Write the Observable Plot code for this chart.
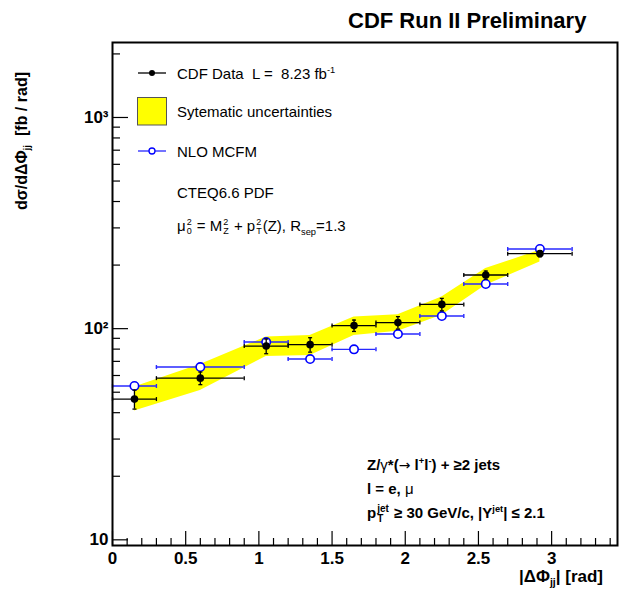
<!DOCTYPE html>
<html><head><meta charset="utf-8">
<script src="https://cdn.jsdelivr.net/npm/d3@7"></script>
<script src="https://cdn.jsdelivr.net/npm/@observablehq/plot@0.6"></script>
<style>
body{margin:0;background:#fff;font-family:"Liberation Sans",Arial,Helvetica,sans-serif;}
#wrap{position:relative;width:619px;height:589px;overflow:hidden;background:#fff;}
#wrap svg.plot{position:absolute;left:0;top:0;}
.t{position:absolute;white-space:nowrap;color:#000;line-height:1;transform:translateY(-50%);}
.b{font-weight:bold;}
sup,sub{font-size:62%;line-height:0;position:relative;vertical-align:baseline;}
sup{top:-0.6em;} sub{top:0.35em;}
.ss{display:inline-flex;flex-direction:column;vertical-align:middle;font-size:9px;line-height:9px;margin:0 1px;}
.g{font-weight:normal;}
.ar{font-weight:normal;font-family:"DejaVu Sans",sans-serif;font-size:14px;}
</style></head><body><div id="wrap"></div><script>
// ---- data ----
const binLo = [0, 0.3, 0.9, 1.2, 1.5, 1.8, 2.1, 2.4, 2.7];
const binHi = [0.3, 0.9, 1.2, 1.5, 1.8, 2.1, 2.4, 2.7, 3.14];
const binCenter = [0.15, 0.6, 1.05, 1.35, 1.65, 1.95, 2.25, 2.55, 2.92];
const dataValue = [46.4, 58.3, 82.7, 84.0, 103.4, 106.8, 130.3, 179.5, 226.6];
const dataStatErr = [4.8, 4.0, 6.6, 6.6, 6.4, 7.2, 8.8, 8.0, 7.5];
const sysLow = [40.7, 51.0, 73.9, 74.7, 92.9, 97.1, 115.6, 160.4, 206.8];
const sysHigh = [52.9, 67.7, 91.2, 92.9, 113.7, 116.5, 141.2, 192.5, 235];
const mcfmValue = [53.5, 65.8, 86.4, 71.8, 79.8, 94.3, 114.7, 162.7, 238.4];
const xTicksMajor = [0, 0.5, 1, 1.5, 2, 2.5, 3];
const xTickLabels = ["0", "0.5", "1", "1.5", "2", "2.5", "3"];
const xTicksMinor = [0.1,0.2,0.3,0.4,0.6,0.7,0.8,0.9,1.1,1.2,1.3,1.4,1.6,1.7,1.8,1.9,2.1,2.2,2.3,2.4,2.6,2.7,2.8,2.9,3.1,3.2,3.3,3.4];
const yTicksMajor = [10, 100, 1000];
const yTickLabels = ["10", "10²", "10³"];
const yTicksMinor = [20,30,40,50,60,70,80,90,200,300,400,500,600,700,800,900,2000];

const rows = binCenter.map((x, i) => ({
  x, lo: binLo[i], hi: binHi[i], v: dataValue[i], e: dataStatErr[i],
  sl: sysLow[i], sh: sysHigh[i], m: mcfmValue[i]
}));
const xLabelOf = new Map(xTicksMajor.map((t, i) => [t, xTickLabels[i]]));
const yLabelOf = new Map(yTicksMajor.map((t, i) => [t, yTickLabels[i]]));

const vcap = {draw(ctx){ ctx.moveTo(0,-2); ctx.lineTo(0,2); }};
const hcap = {draw(ctx){ ctx.moveTo(-2,0); ctx.lineTo(2,0); }};

const plot = Plot.plot({
  width: 619, height: 589,
  marginLeft: 112, marginRight: 2, marginTop: 42, marginBottom: 44,
  x: {domain: [0, 3.45]},
  y: {type: "log", domain: [9.4, 2265]},
  style: {fontFamily: "Liberation Sans, Arial, sans-serif", background: "transparent", overflow: "visible"},
  marks: [
    Plot.areaY(rows, {x: "x", y1: "sl", y2: "sh", fill: "#ffff00", curve: "linear"}),
    // NLO MCFM
    Plot.ruleY(rows, {x1: "lo", x2: "hi", y: "m", stroke: "#2828ff", strokeWidth: 1.4}),
    Plot.dot(rows, {x: "lo", y: "m", symbol: vcap, stroke: "#2828ff", strokeWidth: 1.4}),
    Plot.dot(rows, {x: "hi", y: "m", symbol: vcap, stroke: "#2828ff", strokeWidth: 1.4}),
    Plot.dot(rows, {x: "x", y: "m", r: 4.2, stroke: "#0000ff", fill: "white", strokeWidth: 1.6}),
    // CDF data
    Plot.ruleY(rows, {x1: "lo", x2: "hi", y: "v", stroke: "black", strokeWidth: 1.3}),
    Plot.dot(rows, {x: "lo", y: "v", symbol: vcap, stroke: "black", strokeWidth: 1.3}),
    Plot.dot(rows, {x: "hi", y: "v", symbol: vcap, stroke: "black", strokeWidth: 1.3}),
    Plot.ruleX(rows, {x: "x", y1: d => d.v - d.e, y2: d => d.v + d.e, stroke: "black", strokeWidth: 1.3}),
    Plot.dot(rows, {x: "x", y: d => d.v - d.e, symbol: hcap, stroke: "black", strokeWidth: 1.3}),
    Plot.dot(rows, {x: "x", y: d => d.v + d.e, symbol: hcap, stroke: "black", strokeWidth: 1.3}),
    Plot.dot(rows, {x: "x", y: "v", r: 3.8, fill: "black"}),
    // axes (ticks inside)
    Plot.axisX({ticks: xTicksMajor, tickSize: -14, tickFormat: () => "", label: null, strokeWidth: 1.2}),
    Plot.axisX({ticks: xTicksMinor, tickSize: -7, tickFormat: () => "", label: null, strokeWidth: 1.2}),
    Plot.axisX({ticks: xTicksMajor, tickSize: 0, tickPadding: 6, tickFormat: d => xLabelOf.get(d),
      label: null, fontSize: 17, fontWeight: "bold"}),
    Plot.axisY({ticks: yTicksMajor, tickSize: -16, tickFormat: () => "", label: null, strokeWidth: 1.2}),
    Plot.axisY({ticks: yTicksMinor, tickSize: -8, tickFormat: () => "", label: null, strokeWidth: 1.2}),
    Plot.axisY({ticks: yTicksMajor, tickSize: 0, tickPadding: 4, tickFormat: d => yLabelOf.get(d),
      label: null, fontSize: 17, fontWeight: "bold"}),
    Plot.frame({stroke: "black", strokeWidth: 2})
  ]
});
plot.classList.add("plot");
const wrap = document.getElementById("wrap");
wrap.appendChild(plot);

function addText(html, left, top, cls, extra) {
  const d = document.createElement("div");
  d.className = "t " + (cls || "");
  d.innerHTML = html;
  d.style.left = left + "px";
  d.style.top = top + "px";
  if (extra) Object.assign(d.style, extra);
  wrap.appendChild(d);
  return d;
}

// title
addText("CDF Run II Preliminary", 348, 21, "b", {fontSize: "22px"});
// y axis title (rotated)
addText("d&sigma;/d&Delta;&Phi;<sub>jj</sub>&nbsp;&nbsp;[fb / rad]", 22, 141, "b",
  {fontSize: "16px", transform: "translate(-50%,-50%) rotate(-90deg)"});
// x axis title
addText("|&Delta;&Phi;<sub>jj</sub>| [rad]", 603, 576, "b",
  {fontSize: "17px", transform: "translate(-100%,-50%)"});

// legend
const leg = document.createElementNS("http://www.w3.org/2000/svg", "svg");
leg.setAttribute("width", 619); leg.setAttribute("height", 589);
leg.style.position = "absolute"; leg.style.left = "0"; leg.style.top = "0";
leg.innerHTML = `
  <line x1="138" y1="73" x2="166" y2="73" stroke="black" stroke-width="1.3"/>
  <circle cx="152" cy="73" r="3" fill="black"/>
  <rect x="137.5" y="97.5" width="29" height="27.5" fill="#ffff00" stroke="#555" stroke-width="1"/>
  <line x1="138" y1="151" x2="166" y2="151" stroke="#2828ff" stroke-width="1.3"/>
  <circle cx="152" cy="151" r="3" fill="white" stroke="#0000ff" stroke-width="1.3"/>`;
wrap.appendChild(leg);

const fs = {fontSize: "15px"};
addText("CDF Data&nbsp; L =&nbsp; 8.23 fb<sup>-1</sup>", 177, 73, "", fs);
addText("Sytematic uncertainties", 177, 111, "", fs);
addText("NLO MCFM", 177, 151, "", fs);
addText("CTEQ6.6 PDF", 177, 192, "", fs);
addText("&mu;<span class='ss'><span>2</span><span>0</span></span> = M<span class='ss'><span>2</span><span>Z</span></span> + p<span class='ss'><span>2</span><span>T</span></span>(Z), R<sub style='top:0.45em'>sep</sub>=1.3",
  177, 227, "", {fontSize: "15px"});

// selection annotations
const fb = {fontSize: "15px"};
addText("Z/<span class='g'>&gamma;</span>*(<span class='ar'>&rarr;</span> l<sup>+</sup>l<sup>-</sup>) + &ge;2 jets", 367, 464, "b", fb);
addText("l = e, <span class='g'>&mu;</span>", 367, 488, "b", fb);
addText("p<span class='ss' style='font-size:10px;line-height:10px'><span>jet</span><span>T</span></span> &ge; 30 GeV/c, |Y<sup>jet</sup>| &le; 2.1", 367, 514, "b", fb);
</script></body></html>
